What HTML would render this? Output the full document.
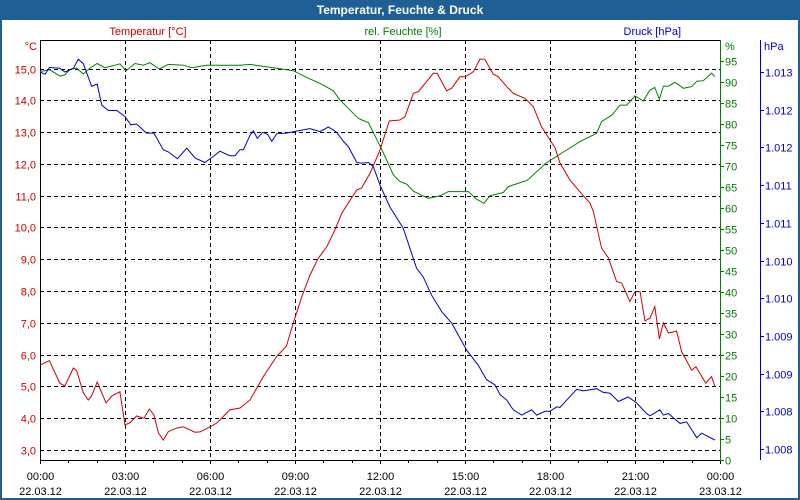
<!DOCTYPE html>
<html><head><meta charset="utf-8"><style>
html,body{margin:0;padding:0;background:#fff}
svg{display:block;font-family:"Liberation Sans",sans-serif}
</style></head><body>
<svg id="chart" width="800" height="500" viewBox="0 0 800 500" xmlns="http://www.w3.org/2000/svg">
<rect x="1" y="1" width="798" height="498" fill="#fff" stroke="#1f5f96" stroke-width="2"/>
<rect x="0" y="0" width="800" height="20" fill="#1f5f96"/>
<text x="400" y="14" text-anchor="middle" fill="#fff" font-size="12" font-weight="bold">Temperatur, Feuchte &amp; Druck</text>
<text x="148" y="35" text-anchor="middle" fill="#cc0000" font-size="11">Temperatur [°C]</text>
<text x="403" y="35" text-anchor="middle" fill="#008000" font-size="11">rel. Feuchte [%]</text>
<text x="681" y="35" text-anchor="end" fill="#0000cc" font-size="11">Druck [hPa]</text>
<text x="37" y="50" text-anchor="end" fill="#cc0000" font-size="11">°C</text>
<text x="725" y="50" fill="#008000" font-size="11">%</text>
<text x="764" y="50" fill="#0000cc" font-size="11">hPa</text>
<g id="grid"></g>
<g id="axes"></g>
<g id="series"></g>
</svg>
<script>
const tempHours=[0,0.33,0.7,0.88,1.18,1.29,1.53,1.7,1.82,2.02,2.33,2.53,2.82,3.0,3.18,3.41,3.67,3.86,4.02,4.18,4.35,4.53,4.82,5.06,5.47,5.65,6.0,6.24,6.7,7.06,7.41,7.88,8.35,8.7,8.94,9.24,9.53,9.82,10.12,10.41,10.65,10.88,11.18,11.35,11.65,11.76,12.0,12.33,12.7,12.88,13.18,13.35,13.88,14.02,14.35,14.53,14.82,15.0,15.3,15.53,15.7,16.0,16.18,16.47,16.7,17.12,17.41,17.7,18.0,18.18,18.35,18.7,19.06,19.41,19.53,19.7,19.82,20.06,20.35,20.53,20.82,21.0,21.18,21.35,21.53,21.7,21.86,22.0,22.18,22.47,22.65,23.0,23.15,23.5,23.7,23.82];
const tempValues=[5.67,5.81,5.1,5.02,5.58,5.5,4.8,4.57,4.7,5.14,4.48,4.7,4.83,3.79,3.86,4.07,4.0,4.29,4.1,3.54,3.31,3.58,3.69,3.73,3.56,3.57,3.73,3.85,4.26,4.32,4.57,5.31,5.94,6.27,7.0,7.82,8.5,9.03,9.39,9.92,10.45,10.77,11.18,11.24,11.71,11.93,12.44,13.35,13.38,13.48,14.22,14.27,14.85,14.85,14.3,14.38,14.74,14.74,14.9,15.3,15.29,14.82,14.74,14.43,14.22,14.06,13.8,13.17,12.75,12.5,12.03,11.5,11.12,10.77,10.5,9.82,9.35,9.04,8.3,8.25,7.67,7.98,7.98,7.06,7.15,7.51,6.49,7.0,6.68,6.74,6.09,5.51,5.62,5.1,5.31,5.0];
const humHours=[0,0.35,0.7,0.88,1.06,1.29,1.53,1.76,2.02,2.29,2.82,3.04,3.35,3.65,3.88,4.21,4.53,5.06,5.35,5.88,7.06,7.41,8.24,8.94,9.41,9.88,10.35,10.59,11.0,11.24,11.59,12.0,12.29,12.47,12.7,12.94,13.18,13.7,14.12,14.41,15.12,15.41,15.67,15.88,16.35,16.53,17.06,17.18,17.88,18.59,19.06,19.65,19.82,20.18,20.47,20.71,21.0,21.29,21.53,21.7,21.86,22.0,22.18,22.41,22.71,23.0,23.18,23.41,23.7,23.82];
const humValues=[92.5,92.9,91.4,91.7,93.0,93.3,91.9,93.3,94.4,93.4,94.3,92.7,94.4,94.0,94.6,93.1,94.2,94.0,93.4,94.0,94.0,94.2,93.4,92.7,91.1,89.7,87.9,85.7,82.9,81.3,80.3,74.8,70.6,67.9,66.3,65.7,64.0,62.3,62.9,63.9,63.9,62.1,61.1,62.9,63.7,65.1,66.3,66.5,70.8,73.8,75.8,77.8,80.6,82.1,84.5,84.5,86.7,85.5,88.1,88.7,85.9,89.0,89.0,89.9,88.5,88.9,90.2,90.3,92.1,91.3];
const presHours=[0,0.18,0.33,0.7,0.88,1.18,1.35,1.53,1.82,2.02,2.18,2.41,2.71,3.0,3.2,3.41,3.76,4.02,4.35,4.53,4.85,5.18,5.47,5.82,6.12,6.35,6.7,6.88,7.06,7.18,7.41,7.53,7.67,7.86,8.04,8.18,8.35,8.7,9.12,9.53,9.88,10.18,10.47,10.71,10.88,11.18,11.35,11.59,11.76,12.0,12.35,12.82,13.29,13.53,13.82,14.18,14.53,15.06,15.47,15.76,16.06,16.24,16.47,16.7,17.0,17.35,17.53,17.82,18.0,18.24,18.35,18.94,19.18,19.65,19.88,20.12,20.41,20.76,21.06,21.41,21.53,21.88,22.0,22.18,22.59,22.82,23.18,23.35,23.82];
const presValues=[1013.0,1012.97,1013.06,1013.05,1013.0,1013.05,1013.17,1013.11,1012.81,1012.84,1012.56,1012.49,1012.49,1012.41,1012.30,1012.31,1012.19,1012.19,1011.97,1011.94,1011.85,1011.99,1011.86,1011.80,1011.88,1011.95,1011.89,1011.89,1011.97,1011.97,1012.16,1012.22,1012.12,1012.2,1012.17,1012.08,1012.18,1012.19,1012.22,1012.25,1012.21,1012.27,1012.2,1012.08,1012.01,1011.8,1011.79,1011.8,1011.75,1011.5,1011.21,1010.93,1010.4,1010.28,1010.04,1009.82,1009.67,1009.31,1009.11,1008.92,1008.85,1008.72,1008.65,1008.52,1008.45,1008.52,1008.45,1008.5,1008.5,1008.56,1008.55,1008.79,1008.77,1008.8,1008.75,1008.74,1008.63,1008.69,1008.61,1008.47,1008.44,1008.52,1008.45,1008.47,1008.34,1008.36,1008.15,1008.21,1008.12];
const tempTicks=[15,14,13,12,11,10,9,8,7,6,5,4,3];
const tempTickLabels=["15,0","14,0","13,0","12,0","11,0","10,0","9,0","8,0","7,0","6,0","5,0","4,0","3,0"];
const humTicks=[95,90,85,80,75,70,65,60,55,50,45,40,35,30,25,20,15,10,5,0];
const presTicks=[1013,1012.5,1012,1011.5,1011,1010.5,1010,1009.5,1009,1008.5,1008];
const presTickLabels=["1.013","1.012","1.012","1.011","1.011","1.010","1.010","1.009","1.009","1.008","1.008"];
const timeTicks=[0,3,6,9,12,15,18,21,24];
const timeLabels=["00:00","03:00","06:00","09:00","12:00","15:00","18:00","21:00","00:00"];
const dateLabels=["22.03.12","22.03.12","22.03.12","22.03.12","22.03.12","22.03.12","22.03.12","22.03.12","23.03.12"];

const L=40,R=720,T=40,B=460;
const xS=h=>L+h*(R-L)/24;
const yT=v=>450-(v-3)*(450-68.5)/12;
const yH=v=>B-v*4.2;
const yP=v=>449-(v-1008)*(449-72)/5;
const NS="http://www.w3.org/2000/svg";
function mk(tag,attrs,parent,txt){const e=document.createElementNS(NS,tag);for(const k in attrs)e.setAttribute(k,attrs[k]);if(txt!==undefined)e.textContent=txt;parent.appendChild(e);return e;}
const grid=document.getElementById('grid'),axes=document.getElementById('axes'),series=document.getElementById('series');
const dash={stroke:'#000','stroke-width':1,'stroke-dasharray':'4,3'};
tempTicks.forEach((v,i)=>{const y=Math.round(yT(v))+0.5;
 const g=mk('line',Object.assign({x1:L,x2:R,y1:y,y2:y},dash),grid);
 
 const t=mk('text',{x:36,y:y+4,'text-anchor':'end',fill:'#cc0000','font-size':11},axes,tempTickLabels[i]);
 });
timeTicks.forEach((h,i)=>{const x=Math.round(xS(h))+0.5;
 if(h>0&&h<24){const g=mk('line',Object.assign({x1:x,x2:x,y1:T,y2:B},dash),grid);
 }
 const t1=mk('text',{x:x,y:480,'text-anchor':'middle',fill:'#000','font-size':11},axes,timeLabels[i]);
 
 const t2=mk('text',{x:x,y:495,'text-anchor':'middle',fill:'#000','font-size':11},axes,dateLabels[i]);
 });
for(let h=0;h<=24;h++){const x=Math.round(xS(h))+0.5;
 const tk=mk('line',{x1:x,x2:x,y1:B,y2:B+(h%3===0?4:3),stroke:'#000'},axes);
 }
humTicks.forEach(v=>{const y=Math.round(yH(v))+0.5;
 const tk=mk('line',{x1:R,x2:R+4,y1:y,y2:y,stroke:'#008000'},axes);
 
 const t=mk('text',{x:725,y:y+4,fill:'#008000','font-size':11},axes,String(v));
 });
presTicks.forEach((v,i)=>{const y=Math.round(yP(v))+0.5;
 const tk=mk('line',{x1:760,x2:764,y1:y,y2:y,stroke:'#0000cc'},axes);
 
 const t=mk('text',{x:765,y:y+4,fill:'#0000cc','font-size':11},axes,presTickLabels[i]);
 });
let a;
a=mk('path',{d:`M${L+0.5},${T} V${B+0.5} H${R}`,fill:'none',stroke:'#000'},axes);

a=mk('line',{x1:L,x2:R,y1:T+0.5,y2:T+0.5,stroke:'#000'},axes);

a=mk('line',{x1:R+0.5,x2:R+0.5,y1:T,y2:B+1,stroke:'#008000'},axes);

a=mk('line',{x1:760.5,x2:760.5,y1:T,y2:B,stroke:'#0000cc'},axes);

function line(hs,vs,yf,col,name){const d=hs.map((h,i)=>(i?'L':'M')+xS(h).toFixed(1)+','+yf(vs[i]).toFixed(1)).join(' ');
 const p=mk('path',{d:d,fill:'none',stroke:col,'stroke-width':1},series);
 }
line(humHours,humValues,yH,'#008000','humidity-line');
line(presHours,presValues,yP,'#0000cc','pressure-line');
line(tempHours,tempValues,yT,'#cc0000','temperature-line');
</script>
</body></html>
